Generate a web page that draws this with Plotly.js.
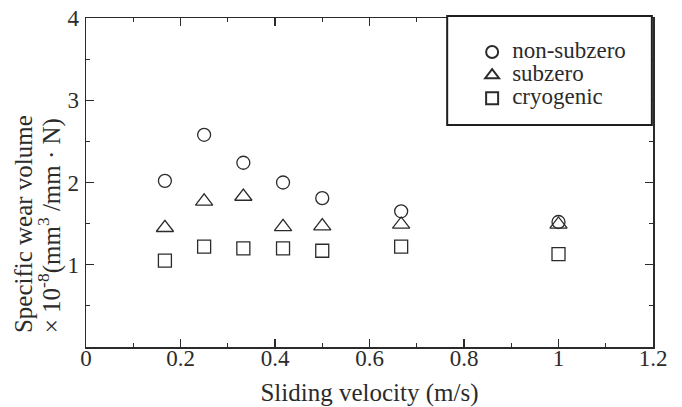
<!DOCTYPE html>
<html>
<head>
<meta charset="utf-8">
<script src="https://cdn.plot.ly/plotly-3.0.1.min.js"></script>
<style>html,body{margin:0;padding:0;background:#fff;}#chart{width:682px;height:407px;}</style>
</head>
<body>
<div id="chart"></div>
<script>
// Sliding velocity (m/s)
const velocity = [0.167, 0.25, 0.333, 0.417, 0.5, 0.667, 1.0];
// Specific wear volume x10^-8 (mm^3/mm·N)
const nonSubzero = [2.02, 2.58, 2.24, 2.00, 1.81, 1.65, 1.52];
const subzero    = [1.45, 1.77, 1.83, 1.46, 1.47, 1.49, 1.49];
const cryogenic  = [1.05, 1.22, 1.20, 1.20, 1.17, 1.22, 1.13];
const seriesNames = ['non-subzero', 'subzero', 'cryogenic'];
const xTicks = [0, 0.2, 0.4, 0.6, 0.8, 1, 1.2];
const yTicks = [1, 2, 3, 4];

const FONT = 'Liberation Serif, Times New Roman, serif';
const INK = '#2b2b2b';

function mk(y, name, symbol, size) {
  return {
    x: velocity, y: y, name: '<span style="font-size:23px">' + name + '</span>',
    type: 'scatter', mode: 'markers',
    marker: {symbol: symbol, size: size, color: INK, line: {color: INK, width: 1.3}},
    hoverinfo: 'x+y'
  };
}

const data = [
  mk(nonSubzero, seriesNames[0], 'circle-open', 13),
  mk(subzero, seriesNames[1], 'triangle-up-open', 15),
  mk(cryogenic, seriesNames[2], 'square-open', 13)
];

const axisCommon = {
  showline: true, linecolor: INK, linewidth: 1.5, mirror: 'ticks',
  ticks: 'inside', ticklen: 8, tickwidth: 1.2, tickcolor: INK,
  showgrid: false, zeroline: false,
  tickfont: {family: FONT, size: 23, color: INK}
};

const layout = {
  width: 682, height: 407,
  margin: {l: 86, r: 29, t: 18, b: 60},
  paper_bgcolor: '#ffffff', plot_bgcolor: '#ffffff',
  font: {family: FONT, color: INK},
  showlegend: true,
  xaxis: Object.assign({}, axisCommon, {
    range: [0, 1.2], tickvals: xTicks, ticktext: xTicks.map(String),
    minor: {dtick: 0.1, ticks: 'inside', ticklen: 4, tickwidth: 1.2, tickcolor: INK},
    ticklabelstandoff: -10,
    title: {text: 'Sliding velocity (m/s)', font: {family: FONT, size: 25, color: INK}, standoff: 16}
  }),
  yaxis: Object.assign({}, axisCommon, {
    range: [0, 4], tickvals: yTicks, ticktext: yTicks.map(String),
    minor: {dtick: 0.5, ticks: 'inside', ticklen: 4, tickwidth: 1.2, tickcolor: INK},
    ticklabelstandoff: 1
  }),
  legend: {
    x: 0.681, y: 0.947, xanchor: 'left', yanchor: 'top',
    bgcolor: 'rgba(0,0,0,0)', borderwidth: 0,
    font: {family: FONT, size: 15.5, color: INK},
    itemsizing: 'constant'
  },
  shapes: [{
    type: 'rect', xref: 'paper', yref: 'paper', layer: 'above',
    x0: 0.637, x1: 0.998, y0: 0.675, y1: 1.006,
    line: {color: '#1e1e1e', width: 2}, fillcolor: '#ffffff'
  }],
  annotations: [{
    xref: 'paper', yref: 'paper', x: -0.11, y: 0.035,
    xanchor: 'center', yanchor: 'bottom', textangle: -90,
    showarrow: false,
    text: 'Specific wear volume',
    font: {family: FONT, size: 25, color: INK}
  }, {
    xref: 'paper', yref: 'paper', x: -0.063, y: 0.035,
    xanchor: 'center', yanchor: 'bottom', textangle: -90,
    showarrow: false,
    text: '× 10<sup>-8</sup>(mm<sup>3</sup> /mm · N)',
    font: {family: FONT, size: 25, color: INK}
  }]
};

Plotly.newPlot('chart', data, layout, {displayModeBar: false, staticPlot: true});
</script>
</body>
</html>
